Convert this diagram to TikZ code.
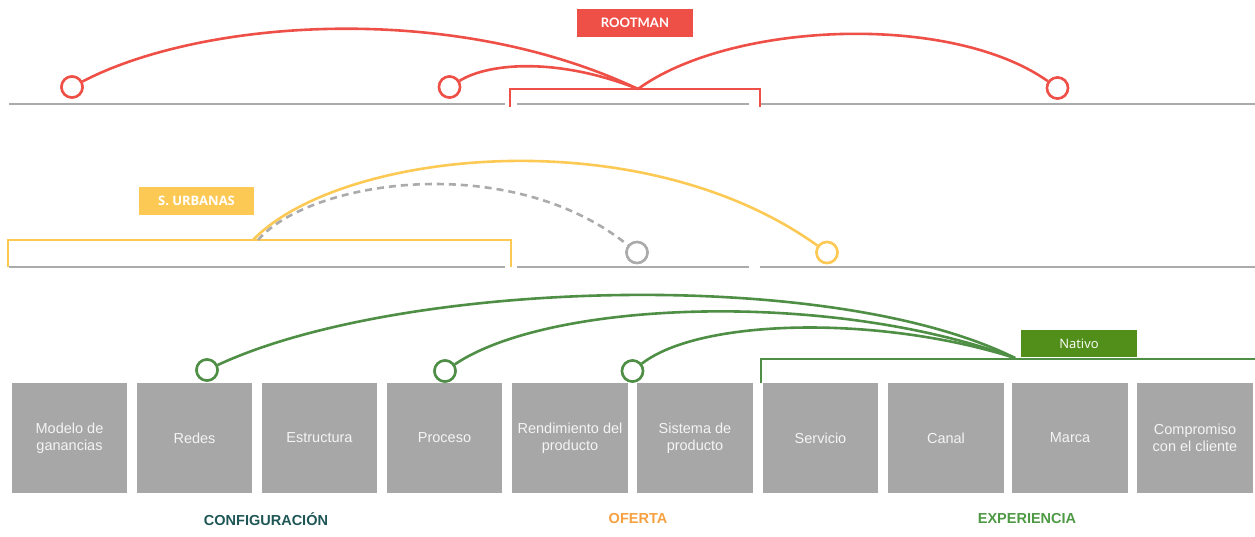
\documentclass[tikz,border=0pt]{standalone}
\usepackage{fontspec}
\setmainfont{Liberation Sans}
\newfontfamily\labfont{Open Sans}
\newfontfamily\rootfont{Lato}
\definecolor{cred}{HTML}{EE5047}
\definecolor{cyel}{HTML}{FDC955}
\definecolor{cgray}{HTML}{ABABAB}
\definecolor{cgreen}{HTML}{4E8E45}
\definecolor{cnat}{HTML}{528F1A}
\definecolor{cbox}{HTML}{A6A7A6}
\definecolor{cboxtxt}{HTML}{F4F4F4}
\definecolor{cconf}{HTML}{1E5656}
\definecolor{cofer}{HTML}{F7A040}
\definecolor{cexp}{HTML}{4E9A44}
\begin{document}
\begin{tikzpicture}[x=1pt,y=-1pt,
  cell/.style={fill=cbox, minimum width=115.5pt, minimum height=110pt, inner sep=0pt, align=center, text=cboxtxt, font=\fontsize{14.5}{16.5}\selectfont},
  ring/.style={circle, draw=#1, line width=2.5pt, fill=white, minimum size=21pt, inner sep=0pt},
  tag/.style={fill=#1, text=white, inner sep=0pt},
  grayline/.style={cgray, line width=1.6pt},
  arc/.style={line width=2.6pt, #1},
  cat/.style={font=\fontsize{14.5}{16}\selectfont\bfseries, text=#1}
]
\useasboundingbox (0,0) rectangle (1255,537);

% gray base lines
\foreach \yy in {104,267}{
  \draw[grayline] (9,\yy) -- (505,\yy);
  \draw[grayline] (517,\yy) -- (749,\yy);
  \draw[grayline] (760,\yy) -- (1255,\yy);
}

% boxes
\node[cell] (b0) at (69.5,438) {Modelo de\\ganancias};
\node[cell] (b1) at (194.5,438) {Redes};
\node[cell] (b2) at (319.5,438) {Estructura};
\node[cell] (b3) at (444.5,438) {Proceso};
\node[cell] (b4) at (570,438) {Rendimiento del\\producto};
\node[cell] (b5) at (695,438) {Sistema de\\producto};
\node[cell] (b6) at (820.5,438) {Servicio};
\node[cell] (b7) at (946,438) {Canal};
\node[cell] (b8) at (1070,438) {Marca};
\node[cell] (b9) at (1195,438) {Compromiso\\con el cliente};

% category labels
\node[cat=cconf] (lconf) at (266,519) {CONFIGURACIÓN};
\node[cat=cofer] (lofer) at (638,519) {OFERTA};
\node[cat=cexp] (lexp) at (1027,519) {EXPERIENCIA};

% brackets
\draw[cred, line width=2.6pt] (510,107) -- (510,89) -- (760,89) -- (760,107);
\draw[cyel, line width=2.6pt] (8,267) -- (8,240) -- (511,240) -- (511,267);
\draw[cgreen, line width=2.6pt] (761,383) -- (761,359) -- (1255,359);

% convergence points
\coordinate (rtop) at (638,89);
\coordinate (ytop) at (253,240);
\coordinate (gtop) at (258,240);
\coordinate (vtop) at (1015,358);

% rings
\node[ring=cred] (r1) at (72,87) {};
\node[ring=cred] (r2) at (449.5,87) {};
\node[ring=cred] (r3) at (1057.5,88) {};
\node[ring=cyel] (y1) at (827,252.5) {};
\node[ring=cgray] (g1) at (637,252.5) {};
\node[ring=cgreen] (v1) at (207,370) {};
\node[ring=cgreen] (v2) at (445,371) {};
\node[ring=cgreen] (v3) at (632.5,371) {};

% red arcs
\draw[arc=cred] (r1) .. controls (200,20) and (450,0) .. (rtop);
\draw[arc=cred] (r2) .. controls (490,62) and (560,58) .. (rtop);
\draw[arc=cred] (rtop) .. controls (730,22) and (950,12) .. (r3);
% yellow and gray arcs
\draw[arc=cyel] (ytop) .. controls (340,150) and (640,118) .. (y1);
\draw[arc=cgray, dashed, dash pattern=on 7pt off 5pt] (gtop) .. controls (310,180) and (510,150) .. (g1);
% green arcs
\draw[arc=cgreen] (v1) .. controls (400,280) and (830,266) .. (vtop);
\draw[arc=cgreen] (v2) .. controls (550,300) and (830,290) .. (vtop);
\draw[arc=cgreen] (v3) .. controls (700,318) and (880,315) .. (vtop);

% redraw rings on top
\node[ring=cred] at (r1) {};
\node[ring=cred] at (r2) {};
\node[ring=cred] at (r3) {};
\node[ring=cyel] at (y1) {};
\node[ring=cgray] at (g1) {};
\node[ring=cgreen] at (v1) {};
\node[ring=cgreen] at (v2) {};
\node[ring=cgreen] at (v3) {};

% tags
\node[tag=cred, minimum width=116pt, minimum height=28pt, font=\rootfont\bfseries\fontsize{13}{14}\selectfont] (troot) at (635,23) {ROOTMAN};
\node[tag=cyel, minimum width=115pt, minimum height=28pt, font=\labfont\bfseries\fontsize{13}{14}\selectfont] (turb) at (196.5,201) {S. URBANAS};
\node[tag=cnat, minimum width=116pt, minimum height=27pt, font=\labfont\fontsize{13}{14}\selectfont] (tnat) at (1079,343.5) {Nativo};
\end{tikzpicture}
\end{document}
